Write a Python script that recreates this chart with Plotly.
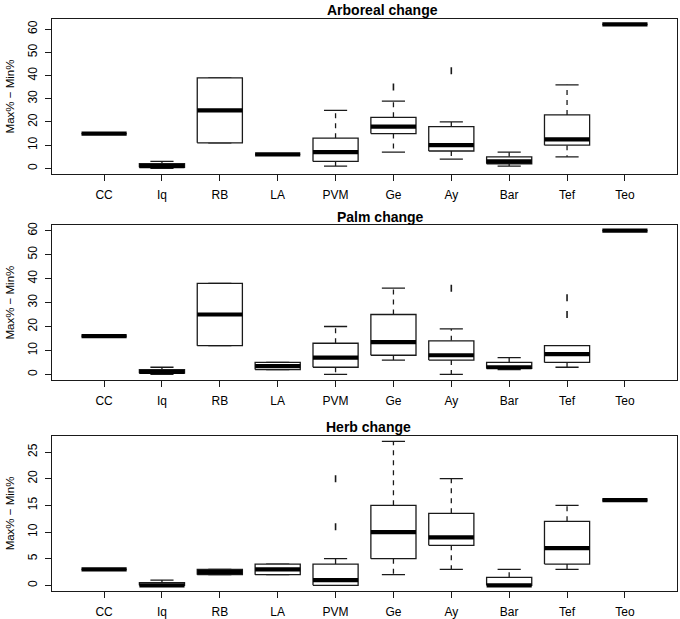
import plotly.graph_objects as go

# site labels (x axis)
sites = ['CC', 'Iq', 'RB', 'LA', 'PVM', 'Ge', 'Ay', 'Bar', 'Tef', 'Teo']

# five-number summaries: min, q1, median, q3, max (whisker ends)
arb_min = [15, 0, 11, 6, 1, 7, 4, 1, 5, 62]
arb_q1 = [15, 0.5, 11, 6, 3, 15, 7.5, 2, 10, 62]
arb_med = [15, 1, 25, 6, 7, 18, 10, 3, 12.5, 62]
arb_q3 = [15, 2, 39, 6, 13, 22, 18, 5, 23, 62]
arb_max = [15, 3, 39, 6, 25, 29, 20, 7, 36, 62]
arb_out_x = ['Ge', 'Ay']
arb_out_y = [35, 42]

palm_min = [16, 0, 12, 2, 0, 6, 0, 2, 3, 60]
palm_q1 = [16, 0.5, 12, 2, 3, 8, 6, 2.5, 5, 60]
palm_med = [16, 1, 25, 3.5, 7, 13.5, 8, 3, 8.5, 60]
palm_q3 = [16, 2, 38, 5, 13, 25, 14, 5, 12, 60]
palm_max = [16, 3, 38, 5, 20, 36, 19, 7, 12, 60]
palm_out_x = ['Ay', 'Tef', 'Tef']
palm_out_y = [36, 32, 25]

herb_min = [3, 0, 2, 2, 0, 2, 3, 0, 3, 16]
herb_q1 = [3, 0, 2, 2, 0, 5, 7.5, 0, 4, 16]
herb_med = [3, 0, 2.5, 3, 1, 10, 9, 0, 7, 16]
herb_q3 = [3, 0.5, 3, 4, 4, 15, 13.5, 1.5, 12, 16]
herb_max = [3, 1, 3, 4, 5, 27, 20, 3, 15, 16]
herb_out_x = ['PVM', 'PVM']
herb_out_y = [20, 11]

panels = [
    ('Arboreal change', arb_min, arb_q1, arb_med, arb_q3, arb_max, arb_out_x, arb_out_y),
    ('Palm change', palm_min, palm_q1, palm_med, palm_q3, palm_max, palm_out_x, palm_out_y),
    ('Herb change', herb_min, herb_q1, herb_med, herb_q3, herb_max, herb_out_x, herb_out_y),
]

W, H = 680, 619
# plot boxes in pixels (top, bottom) and title centres
boxes = [(15.7, 172), (223, 379), (434.7, 591)]
title_pos = [(382, 7.5), (380, 215), (368, 426)]
x_left, x_right = 52, 677

col = '#1a1a1a'
hw = 0.39   # half box width
cw = 0.2    # half staple width

fig = go.Figure()

for i, (title, mn, q1, md, q3, mx, ox, oy) in enumerate(panels):
    xa = 'x' if i == 0 else 'x%d' % (i + 1)
    ya = 'y' if i == 0 else 'y%d' % (i + 1)
    bx, by, wx, wy, sx, sy, mxs, mys = [], [], [], [], [], [], [], []
    for j in range(len(sites)):
        c = j + 1
        bx += [c - hw, c + hw, c + hw, c - hw, c - hw, None]
        by += [q1[j], q1[j], q3[j], q3[j], q1[j], None]
        wx += [c, c, None, c, c, None]
        wy += [q3[j], mx[j], None, q1[j], mn[j], None]
        sx += [c - cw, c + cw, None, c - cw, c + cw, None]
        sy += [mx[j], mx[j], None, mn[j], mn[j], None]
        mxs += [c - hw, c + hw, None]
        mys += [md[j], md[j], None]
    fig.add_trace(go.Scatter(x=wx, y=wy, mode='lines', xaxis=xa, yaxis=ya,
                             line=dict(color=col, width=1.3, dash='5px,5px'),
                             showlegend=False, hoverinfo='skip'))
    fig.add_trace(go.Scatter(x=sx, y=sy, mode='lines', xaxis=xa, yaxis=ya,
                             line=dict(color=col, width=1.3),
                             showlegend=False, hoverinfo='skip'))
    fig.add_trace(go.Scatter(x=bx, y=by, mode='lines', xaxis=xa, yaxis=ya,
                             fill='toself', fillcolor='white',
                             line=dict(color=col, width=1.3),
                             showlegend=False, hoverinfo='skip'))
    fig.add_trace(go.Scatter(x=mxs, y=mys, mode='lines', xaxis=xa, yaxis=ya,
                             line=dict(color='black', width=4.2),
                             showlegend=False, hoverinfo='skip'))
    fig.add_trace(go.Scatter(x=[sites.index(s) + 1 for s in ox], y=oy, mode='markers',
                             xaxis=xa, yaxis=ya,
                             marker=dict(symbol='line-ns', size=5,
                                         line=dict(color=col, width=1.6)),
                             showlegend=False, hoverinfo='skip'))

    top, bot = boxes[i]
    ymax = max(mx + oy)
    pad = 0.04 * ymax
    dt = 5 if ymax < 40 else 10
    axis_common = dict(showline=True, mirror=True, linecolor=col, linewidth=1.2,
                       ticks='outside', ticklen=6, tickcolor=col, tickwidth=1.2,
                       showgrid=False, zeroline=False,
                       tickfont=dict(family='Liberation Sans', size=12, color='black'))
    fig.layout[('xaxis' if i == 0 else 'xaxis%d' % (i + 1))] = dict(
        axis_common, domain=[x_left / W, x_right / W], range=[0.1, 10.9],
        tickvals=list(range(1, len(sites) + 1)), ticktext=sites, anchor=ya,
        ticklabelstandoff=3)
    fig.layout[('yaxis' if i == 0 else 'yaxis%d' % (i + 1))] = dict(
        axis_common, domain=[1 - bot / H, 1 - top / H], range=[-pad, ymax + pad],
        tickmode='linear', tick0=0, dtick=dt, tickangle=-90, anchor=xa,
        ticklabelstandoff=3)

    tx, ty = title_pos[i]
    fig.add_annotation(text='<b>' + title + '</b>', x=tx / W, y=1 - ty / H,
                       xref='paper', yref='paper', showarrow=False,
                       xanchor='center', yanchor='middle',
                       font=dict(family='Liberation Sans', size=14, color='black'))
    fig.add_annotation(text='Max% \u2212 Min%', x=10 / W, y=1 - (top + bot) / 2 / H,
                       xref='paper', yref='paper', showarrow=False, textangle=-90,
                       xanchor='center', yanchor='middle',
                       font=dict(family='Liberation Sans', size=11.5, color='black'))

fig.update_layout(width=W, height=H, margin=dict(l=0, r=0, t=0, b=0),
                  paper_bgcolor='white', plot_bgcolor='white')

# drop the page's default body margin so the figure sits at the window corner
fig.write_html("out.html", config={'displayModeBar': False},
               post_script="document.body.style.margin='0';")
